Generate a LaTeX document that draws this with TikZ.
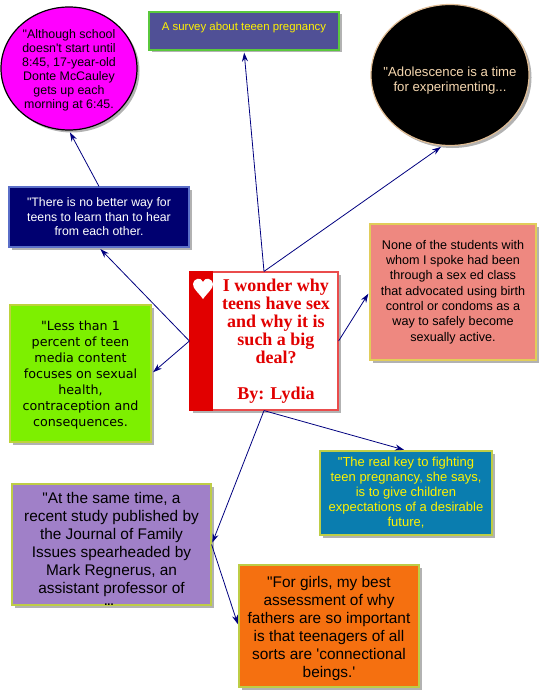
\documentclass[tikz,border=0pt]{standalone}
\usepackage{fontspec}
\usepackage{xcolor}
\newfontfamily\arialfont{Liberation Sans}
\newfontfamily\verdanafont{DejaVu Sans}
\newfontfamily\timesfont{Liberation Serif}
\usetikzlibrary{arrows.meta, positioning, calc, shadows, shapes.geometric}
\definecolor{linknavy}{RGB}{0,0,128}
\definecolor{surveyblue}{RGB}{80,80,150}
\definecolor{surveygreen}{RGB}{90,200,60}
\definecolor{pinkfill}{RGB}{255,0,255}
\definecolor{navyfill}{RGB}{0,0,112}
\definecolor{navyline}{RGB}{90,110,200}
\definecolor{salmonfill}{RGB}{238,136,128}
\definecolor{goldline}{RGB}{225,205,90}
\definecolor{limefill}{RGB}{125,240,0}
\definecolor{limeline}{RGB}{190,210,60}
\definecolor{bandred}{RGB}{225,0,0}
\definecolor{tealfill}{RGB}{10,125,175}
\definecolor{oliveline}{RGB}{190,205,70}
\definecolor{purplefill}{RGB}{160,128,200}
\definecolor{orangefill}{RGB}{245,112,16}
\definecolor{tanline}{RGB}{225,190,150}
\definecolor{tantext}{RGB}{245,215,175}
\begin{document}
\begin{tikzpicture}[
    x=1pt, y=-1pt,
    thought/.style={draw, line width=1.2pt, align=center, inner sep=0pt,
                    drop shadow={shadow xshift=2.5pt, shadow yshift=-2.5pt, fill=black, opacity=0.3}},
    link/.style={-{Stealth[length=9pt, width=6pt]}, linknavy, line width=0.8pt, shorten >=2pt}
]
\fill[white] (0,0) rectangle (539,690);
\useasboundingbox (0,0) rectangle (539,690);
% central box
\node[thought, draw=bandred!70, fill=white, minimum width=148pt, minimum height=138pt] (centre) at (264,341) {};
\fill[bandred] (centre.north west) rectangle ($(centre.south west)+(24pt,0)$);
\fill[white] (203,299) .. controls (198,292) and (193,289) .. (193,284)
    .. controls (193,279) and (201,276) .. (203,282)
    .. controls (205,276) and (213,279) .. (213,284)
    .. controls (213,289) and (208,292) .. (203,299) -- cycle;
\node[align=center, inner sep=0pt, text=bandred, font=\timesfont\bfseries\fontsize{18}{18}\selectfont] (question) at (276,341.5)
    {I wonder why\\teens have sex\\and why it is\\such a big\\deal?\\[18pt]By: Lydia};
% outer thoughts
\node[thought, ellipse, draw=black, fill=pinkfill, minimum width=136pt, minimum height=123pt,
      font=\arialfont\fontsize{12.4}{14}\selectfont] (pink) at (69,68.5)
    {\rule{0pt}{13pt}"Although school\\doesn't start until\\8:45, 17-year-old\\Donte McCauley\\gets up each\\morning at 6:45.};
\node[thought, draw=surveygreen, fill=surveyblue, minimum width=190pt, minimum height=38pt, text=yellow,
      font=\arialfont\fontsize{11.4}{13}\selectfont] (survey) at (244,31)
    {\rule[-10pt]{0pt}{10pt}A survey about teeen pregnancy};
\node[thought, ellipse, draw=tanline, fill=black, minimum width=158pt, minimum height=141pt, inner xsep=-12pt,
      text=tantext, font=\arialfont\fontsize{13.2}{15}\selectfont] (black) at (450,75)
    {\rule{0pt}{21.5pt}"Adolescence is a time\\for experimenting...};
\node[thought, draw=navyline, fill=navyfill, minimum width=180pt, minimum height=60pt, text=white,
      font=\arialfont\fontsize{12.3}{14.5}\selectfont] (navy) at (99,217)
    {"There is no better way for\\teens to learn than to hear\\from each other.};
\node[thought, draw=goldline, fill=salmonfill, minimum width=166pt, minimum height=136pt,
      font=\arialfont\fontsize{12.6}{15.3}\selectfont] (salmon) at (453,292)
    {None of the students with\\whom I spoke had been\\through a sex ed class\\that advocated using birth\\control or condoms as a\\way to safely become\\sexually active.};
\node[thought, draw=limeline, fill=limefill, minimum width=141pt, minimum height=137pt,
      font=\verdanafont\fontsize{12.7}{16}\selectfont] (lime) at (80.5,373.5)
    {\rule{0pt}{13.5pt}"Less than 1\\percent of teen\\media content\\focuses on sexual\\health,\\contraception and\\consequences.};
\node[thought, draw=oliveline, fill=tealfill, minimum width=172pt, minimum height=84pt, text=yellow,
      font=\arialfont\fontsize{13}{15}\selectfont] (teal) at (406,493)
    {"The real key to fighting\\teen pregnancy, she says,\\is to give children\\expectations of a desirable\\future,};
\node[thought, draw=oliveline, fill=purplefill, minimum width=199pt, minimum height=121pt,
      font=\arialfont\fontsize{15.4}{18.1}\selectfont] (purple) at (111.5,544.5)
    {"At the same time, a\\recent study published by\\the Journal of Family\\Issues spearheaded by\\Mark Regnerus, an\\assistant professor of};
\node[inner sep=0pt, font=\arialfont\bfseries\fontsize{11}{11}\selectfont] (purplemore) at (109,605) {...};
\node[thought, draw=oliveline, fill=orangefill, minimum width=180pt, minimum height=122pt,
      font=\arialfont\fontsize{15.4}{18}\selectfont] (orange) at (329,626)
    {\rule{0pt}{17pt}"For girls, my best\\assessment of why\\fathers are so important\\is that teenagers of all\\sorts are 'connectional\\beings.'};
% links
\draw[link] (centre.north) -- (survey.south);
\draw[link] (centre.north) -- (black.264);
\draw[link] (centre.west) -- (navy.south);
\draw[link] (centre.west) -- (lime.east);
\draw[link] (centre.east) -- (salmon.west);
\draw[link] (centre.south) -- (teal.north);
\draw[link] (centre.south) -- (purple.east);
\draw[link] (purple.east) -- (orange.west);
\draw[link] (navy.north) -- (pink.south);
\end{tikzpicture}
\end{document}
